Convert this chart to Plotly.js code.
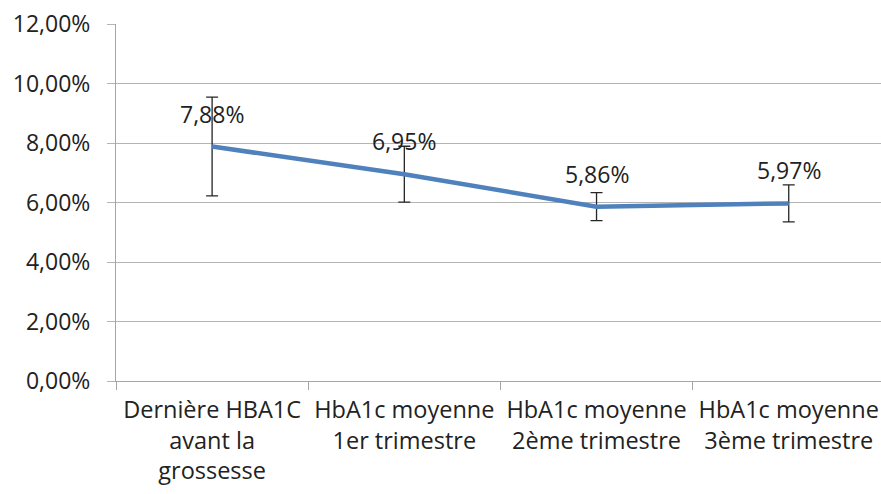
<!DOCTYPE html>
<html>
<head>
<meta charset="utf-8">
<script src="https://cdn.plot.ly/plotly-3.0.1.min.js"></script>
<style>html,body{margin:0;padding:0;background:#fff;}#chart{width:881px;height:494px;}</style>
</head>
<body>
<div id="chart"></div>
<script>
const categories = ["Dernière HBA1C<br>avant la<br>grossesse", "HbA1c moyenne<br>1er trimestre", "HbA1c moyenne<br>2ème trimestre", "HbA1c moyenne<br>3ème trimestre"];
const values = [7.88, 6.95, 5.86, 5.97];
const errors = [1.66, 0.94, 0.47, 0.62];
const labels = ["7,88%", "6,95%", "5,86%", "5,97%"];
const yTickVals = [0, 2, 4, 6, 8, 10, 12];
const yTickText = ["0,00%", "2,00%", "4,00%", "6,00%", "8,00%", "10,00%", "12,00%"];

const FONT = "Open Sans, sans-serif";
const TXT = "#222222";

const trace = {
  type: "scatter",
  mode: "lines",
  x: categories,
  y: values,
  line: {color: "#4F81BD", width: 4.5},
  error_y: {type: "data", array: errors, visible: true, color: "#262626", thickness: 1.3, width: 6},
  hoverinfo: "skip"
};

const annotations = categories.map((c, i) => ({
  x: c, y: values[i], xref: "x", yref: "y",
  text: labels[i], showarrow: false, yshift: 33,
  font: {family: FONT, size: 23, color: TXT}
}));

const layout = {
  width: 881, height: 494,
  margin: {l: 116, r: 0, t: 24, b: 113},
  paper_bgcolor: "#fff", plot_bgcolor: "#fff",
  showlegend: false,
  font: {family: FONT, color: TXT},
  xaxis: {
    type: "category", range: [-0.5, 3.48],
    showgrid: false, showline: true, linecolor: "#a6a6a6", linewidth: 1,
    ticks: "outside", tickson: "boundaries", ticklen: 8, tickcolor: "#a6a6a6",
    tickfont: {family: FONT, size: 23.5, color: TXT},
    tickangle: 0,
    ticklabelstandoff: 8,
    zeroline: false, fixedrange: true
  },
  yaxis: {
    range: [0, 12], tickvals: yTickVals, ticktext: yTickText,
    showgrid: true, gridcolor: "#b4b4b4", gridwidth: 1,
    showline: true, linecolor: "#a6a6a6", linewidth: 1,
    ticks: "outside", ticklen: 8, tickcolor: "#b4b4b4",
    tickfont: {family: FONT, size: 23, color: TXT},
    ticklabelstandoff: 12,
    zeroline: false, fixedrange: true
  },
  annotations: annotations
};

Plotly.newPlot("chart", [trace], layout, {displayModeBar: false, staticPlot: true});
</script>
</body>
</html>
